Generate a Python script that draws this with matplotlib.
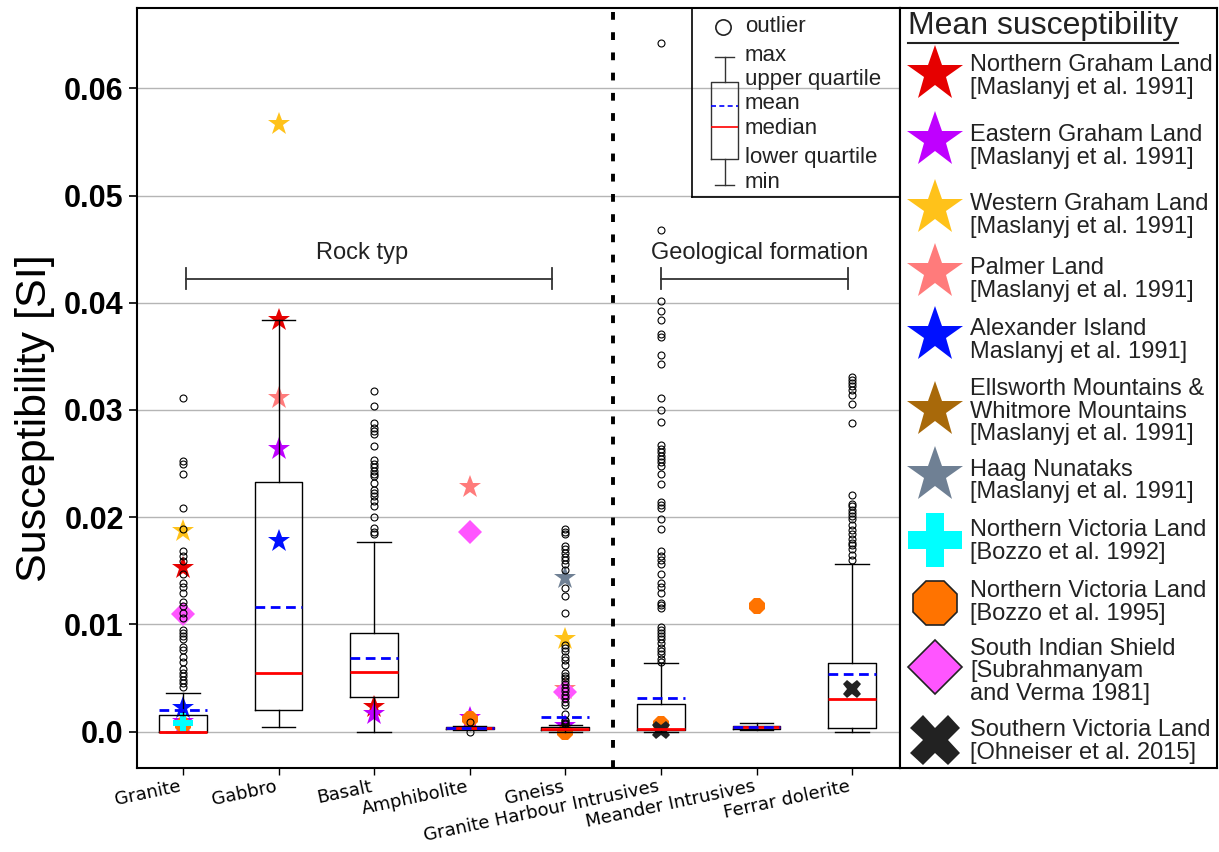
import numpy as np
import matplotlib.pyplot as plt

# Box statistics per rock type / formation
categories = ["Granite", "Gabbro", "Basalt", "Amphibolite", "Gneiss",
              "Granite Harbour Intrusives", "Meander Intrusives", "Ferrar dolerite"]
q1 = [0.0, 0.0020, 0.0032, 0.0002, 0.0001, 0.0001, 0.0002, 0.0003]
q3 = [0.0015, 0.0233, 0.0092, 0.0004, 0.0004, 0.0026, 0.0005, 0.0064]
medians = [0.0, 0.0055, 0.0056, 0.0003, 0.0002, 0.0002, 0.0004, 0.0030]
means = [0.0020, 0.0116, 0.0069, 0.0003, 0.0014, 0.0031, 0.0004, 0.0054]
whis_lo = [0.0, 0.0004, 0.0, 0.0001, 0.0, 0.0, 0.0001, 0.0]
whis_hi = [0.0036, 0.0384, 0.0177, 0.0005, 0.0006, 0.0064, 0.0008, 0.0156]

outliers = {
    "Granite": [0.0311, 0.0252, 0.0250, 0.0240, 0.0209, 0.0189, 0.0168, 0.0164, 0.0159,
                0.0147, 0.0139, 0.0135, 0.0129, 0.0121, 0.0117, 0.0111, 0.0106, 0.0095,
                0.0092, 0.0089, 0.0086, 0.0079, 0.0076, 0.0070, 0.0065, 0.0058, 0.0055,
                0.0052, 0.0048, 0.0045, 0.0042],
    "Gabbro": [],
    "Basalt": [0.0318, 0.0304, 0.0288, 0.0283, 0.0280, 0.0278, 0.0266, 0.0253, 0.0250,
               0.0247, 0.0243, 0.0240, 0.0238, 0.0232, 0.0225, 0.0223, 0.0220, 0.0215,
               0.0210, 0.0200, 0.0190, 0.0186, 0.0184],
    "Amphibolite": [0.0009, 0.0000],
    "Gneiss": [0.0189, 0.0186, 0.0184, 0.0173, 0.0170, 0.0167, 0.0163, 0.0160, 0.0156,
               0.0151, 0.0134, 0.0126, 0.0111, 0.0081, 0.0078, 0.0075, 0.0070, 0.0067,
               0.0062, 0.0055, 0.0052, 0.0050, 0.0047, 0.0044, 0.0041, 0.0038, 0.0034,
               0.0031, 0.0028, 0.0025, 0.0016, 0.0011, 0.0010, 0.0008, 0.0007],
    "Granite Harbour Intrusives": [0.0642, 0.0468, 0.0402, 0.0392, 0.0384, 0.0371, 0.0368,
                                   0.0351, 0.0343, 0.0311, 0.0300, 0.0289, 0.0267, 0.0264,
                                   0.0261, 0.0257, 0.0254, 0.0251, 0.0248, 0.0240, 0.0231,
                                   0.0214, 0.0211, 0.0209, 0.0198, 0.0189, 0.0168, 0.0164,
                                   0.0160, 0.0156, 0.0147, 0.0139, 0.0135, 0.0129, 0.0120,
                                   0.0118, 0.0115, 0.0098, 0.0095, 0.0092, 0.0089, 0.0086,
                                   0.0083, 0.0078, 0.0075, 0.0072, 0.0068, 0.0065],
    "Meander Intrusives": [],
    "Ferrar dolerite": [0.0331, 0.0328, 0.0325, 0.0322, 0.0319, 0.0314, 0.0306, 0.0288,
                        0.0221, 0.0212, 0.0210, 0.0207, 0.0204, 0.0201, 0.0198, 0.0193,
                        0.0188, 0.0184, 0.0180, 0.0176, 0.0174, 0.0170, 0.0165, 0.0160],
}

# Published mean susceptibilities (category -> value)
north_graham = {"Granite": 0.0153, "Gabbro": 0.0384, "Basalt": 0.0023}
east_graham = {"Granite": 0.0009, "Gabbro": 0.0264, "Basalt": 0.0016,
               "Amphibolite": 0.0013, "Gneiss": 0.0005}
west_graham = {"Granite": 0.0187, "Gabbro": 0.0567, "Gneiss": 0.0086}
palmer = {"Gabbro": 0.0311, "Amphibolite": 0.0228, "Gneiss": 0.0040}
alexander = {"Granite": 0.0022, "Gabbro": 0.0178}
ellsworth = {}
haag = {"Gneiss": 0.0143}
nvl_1992 = {"Granite": 0.0008}
nvl_1995 = {"Granite": 0.0006, "Amphibolite": 0.0012, "Gneiss": 0.0000,
            "Granite Harbour Intrusives": 0.0007, "Meander Intrusives": 0.0117}
south_indian = {"Granite": 0.0110, "Amphibolite": 0.0186, "Gneiss": 0.0037}
south_victoria = {"Granite Harbour Intrusives": 0.0001, "Ferrar dolerite": 0.0040}

sources = [
    ("Northern Graham Land\n[Maslanyj et al. 1991]", north_graham, "*", "#e60000"),
    ("Eastern Graham Land\n[Maslanyj et al. 1991]", east_graham, "*", "#bf00ff"),
    ("Western Graham Land\n[Maslanyj et al. 1991]", west_graham, "*", "#ffc21a"),
    ("Palmer Land\n[Maslanyj et al. 1991]", palmer, "*", "#ff7b7b"),
    ("Alexander Island\nMaslanyj et al. 1991]", alexander, "*", "#0010ff"),
    ("Ellsworth Mountains &\nWhitmore Mountains\n[Maslanyj et al. 1991]", ellsworth, "*", "#a8690a"),
    ("Haag Nunataks\n[Maslanyj et al. 1991]", haag, "*", "#6f8094"),
    ("Northern Victoria Land\n[Bozzo et al. 1992]", nvl_1992, "P", "#00ffff"),
    ("Northern Victoria Land\n[Bozzo et al. 1995]", nvl_1995, "8", "#ff7300"),
    ("South Indian Shield\n[Subrahmanyam\nand Verma 1981]", south_indian, "D", "#ff55ff"),
    ("Southern Victoria Land\n[Ohneiser et al. 2015]", south_victoria, "X", "#222222"),
]
plot_sizes = {"*": 17, "P": 15, "8": 12, "D": 12, "X": 13}
legend_sizes = {"*": 42, "P": 39, "8": 35, "D": 28, "X": 36}
marker_z = {"*": 2.5, "P": 2.7, "8": 2.55, "D": 2.5, "X": 2.6}

sans = "Liberation Sans"
W, H = 1219, 852
fig = plt.figure(figsize=(W / 100, H / 100), dpi=100)
ax = fig.add_axes([137 / W, 1 - 768 / H, 763 / W, 760 / H])

positions = np.arange(1, len(categories) + 1)
stats = []
for i, name in enumerate(categories):
    stats.append(dict(label=name, q1=q1[i], med=medians[i], q3=q3[i], mean=means[i],
                      whislo=whis_lo[i], whishi=whis_hi[i], fliers=np.array(outliers[name])))

ax.bxp(stats, positions=positions, widths=0.5, capwidths=0.35, showmeans=True, meanline=True,
       boxprops=dict(color="black", lw=1),
       whiskerprops=dict(color="black", lw=1),
       capprops=dict(color="black", lw=1),
       medianprops=dict(color="red", lw=2),
       meanprops=dict(color="blue", ls=(0, (3.5, 2)), lw=2),
       flierprops=dict(marker="o", mfc="none", mec="black", ms=5, mew=0.8),
       zorder=3)

# Literature means on top of the boxes
for label, src, marker, color in sources:
    xs = [categories.index(k) + 1 for k in src]
    ys = list(src.values())
    ax.plot(xs, ys, ls="none", marker=marker, color=color, ms=plot_sizes[marker],
            mew=0, zorder=marker_z[marker])

ax.set_xlim(0.52, 8.5)
ax.set_ylim(-0.0034, 0.0675)
yt = np.arange(0, 0.061, 0.01)
ax.set_yticks(yt)
ax.set_yticklabels(["0.0"] + [f"{v:.2f}" for v in yt[1:]], fontsize=22,
                   fontweight="bold", family=sans)
ax.set_xticks(positions)
ax.set_xticklabels(categories, rotation=12, ha="right", va="top", fontsize=13)
ax.tick_params(axis="y", length=6, width=1.2)
ax.tick_params(axis="x", length=5, width=1, pad=2)
ax.set_ylabel("Susceptibility [SI]", fontsize=31, family=sans)
ax.yaxis.set_label_coords(-0.108, 0.46)
ax.yaxis.grid(True, color="#b5b5b5", lw=1)
ax.set_axisbelow(True)
for s in ax.spines.values():
    s.set_linewidth(1.5)

# Split between rock types and geological formations
ax.axvline(5.5, color="black", lw=2.8, ls=(0, (2, 3.2)), zorder=4)

# Group brackets
for x0, x1, xt, txt in [(1.03, 4.86, 2.87, "Rock typ"), (6.0, 7.96, 7.03, "Geological formation")]:
    ax.plot([x0, x1], [0.0422, 0.0422], color="#333333", lw=1.3)
    ax.plot([x0, x0], [0.0413, 0.0432], color="#333333", lw=1.3)
    ax.plot([x1, x1], [0.0413, 0.0432], color="#333333", lw=1.3)
    ax.text(xt, 0.0436, txt, ha="center", va="bottom", fontsize=17, family=sans, color="#222222")

# Box legend inside the plot
lg = fig.add_axes([692 / W, 1 - 197 / H, 208 / W, 189 / H])
lg.patch.set_alpha(0)
lg.bxp([dict(q1=159, med=127, q3=82, mean=106, whislo=185, whishi=57, fliers=[])],
       positions=[724.5], widths=27, capwidths=19, showmeans=True, meanline=True,
       boxprops=dict(color="#333333", lw=1), whiskerprops=dict(color="#333333", lw=1),
       capprops=dict(color="#333333", lw=1), medianprops=dict(color="red", lw=1.2),
       meanprops=dict(color="blue", ls=(0, (3, 2)), lw=1.2))
lg.set_xlim(692, 900)
lg.set_ylim(197, 8)
lg.set_xticks([])
lg.set_yticks([])
for s in lg.spines.values():
    s.set_linewidth(1.2)
lg.plot([723], [27], marker="o", mfc="none", mec="#222222", ms=11, mew=1.2)
for y, txt in zip([27, 56, 80, 104, 129, 157, 182],
                  ["outlier", "max", "upper quartile", "mean", "median", "lower quartile", "min"]):
    lg.text(745, y, txt, va="center", ha="left", fontsize=16, family=sans, color="#222222")

# Source legend on the right
rg = fig.add_axes([900 / W, 1 - 768 / H, 317 / W, 760 / H])
rg.set_xlim(900, 1217)
rg.set_ylim(768, 8)
rg.set_xticks([])
rg.set_yticks([])
for s in rg.spines.values():
    s.set_linewidth(1.5)
title = rg.text(908, 26, "Mean susceptibility", va="center", ha="left", fontsize=23,
                family=sans, color="#222222")
fig.canvas.draw()
bb = title.get_window_extent().transformed(rg.transData.inverted())
rg.plot([bb.x0, bb.x1], [43, 43], color="#222222", lw=1.5)

marker_y = [74, 140, 208, 272, 335, 410, 475, 540, 603, 667, 740]
text_y = [76.5, 146.5, 215.5, 279.5, 340.5, 411.5, 481, 541.5, 602.5, 671.5, 741.5]
for (label, src, marker, color), my, ty in zip(sources, marker_y, text_y):
    edge = "#222222" if marker in ("8", "D") else color
    rg.plot([935], [my], marker=marker, color=color, ms=legend_sizes[marker],
            mec=edge, mew=1.2 if edge != color else 0)
    rg.text(970, ty, label, va="center", ha="left", fontsize=17, family=sans,
            color="#222222", linespacing=1.05)

fig.savefig("out.png", dpi=100)
